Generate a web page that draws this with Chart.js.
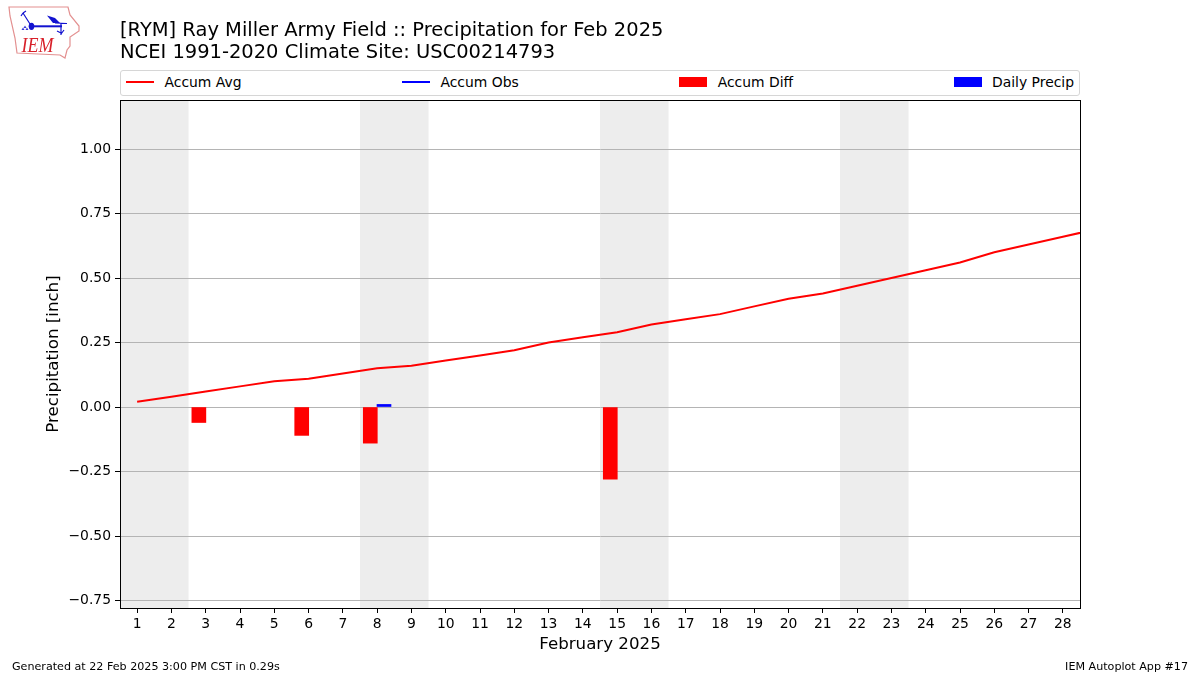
<!DOCTYPE html>
<html>
<head>
<meta charset="utf-8">
<title>Precipitation for Feb 2025</title>
<script src="https://cdn.jsdelivr.net/npm/chart.js@4"></script>
<style>
  body { margin: 0; background: #fff; font-family: "DejaVu Sans", sans-serif; color: #000; }
  #wrap { position: relative; width: 1200px; height: 675px; overflow: hidden; }
  #myChart { position: absolute; left: 0; top: 0; }
  #logo { position: absolute; left: 0; top: 0; }
  .title { position: absolute; left: 120px; font-size: 19.48px; line-height: 23px; white-space: nowrap; }
  .foot { position: absolute; top: 660px; font-size: 11.14px; line-height: 13px; color: #000; white-space: nowrap; }
  #legend { position: absolute; left: 120px; top: 70px; width: 960px; height: 25.5px; box-sizing: border-box;
            border: 1px solid #d6d6d6; border-radius: 3px; padding: 0 5px 2px; background: #fff;
            display: flex; justify-content: space-between; align-items: center; font-size: 13.9px; }
  .item { display: flex; align-items: center; white-space: nowrap; }
  .swatch { display: inline-block; width: 28px; margin-right: 10.5px; }
</style>
</head>
<body>
<div id="wrap">
  <canvas id="myChart" width="1200" height="675"></canvas>
  <svg id="logo" width="85" height="62" viewBox="0 0 85 62">
    <path d="M9 7 L68 7 L70 15 L79 26 L79 31 L70 37 L70 46 L67 50 L65 58 L60 55 L17 53 L15 38 L10 16 Z" fill="none" stroke="#e39090" stroke-width="1.2"/>
    <path d="M31 26.3 L62 26.3" stroke="#1212d0" stroke-width="2" fill="none"/>
    <path d="M30 24 L23 13 M23 13 L21 16 M23 13 L26 11 M55 23 L67 23.5 M61 23 L61 35 M57 31 L61 33 M64 30 L61 34" stroke="#1212d0" stroke-width="1.2" fill="none"/>
    <ellipse cx="31.5" cy="26.3" rx="2.8" ry="3.6" fill="#1212d0"/>
    <path d="M47 15.5 L55 18 L60 23 L53 23 Z" fill="#1212d0"/>
    <path d="M25 25.5 L26.5 28 L23.5 28 Z M23 27.5 L24.5 30 L21.5 30 Z M27 27.5 L28.5 30 L25.5 30 Z" fill="#3a3ad8"/>
    <text x="21.5" y="51.5" font-family="Liberation Serif" font-style="italic" font-size="20.5" textLength="32" lengthAdjust="spacingAndGlyphs" fill="#d8202a">IEM</text>
  </svg>
  <div class="title" style="top:17.5px">[RYM] Ray Miller Army Field :: Precipitation for Feb 2025</div>
  <div class="title" style="top:39.5px">NCEI 1991-2020 Climate Site: USC00214793</div>
  <div id="legend"></div>
  <div class="foot" style="left:12px">Generated at 22 Feb 2025 3:00 PM CST in 0.29s</div>
  <div class="foot" style="right:12px">IEM Autoplot App #17</div>
</div>
<script>
// Days along the x-axis
var days = [1,2,3,4,5,6,7,8,9,10,11,12,13,14,15,16,17,18,19,20,21,22,23,24,25,26,27,28];
var yTicks = [-0.75,-0.5,-0.25,0,0.25,0.5,0.75,1];

// Climatology, the last point is 1 March and gets clipped at the frame
var avgDays = [1,2,3,4,5,6,7,8,9,10,11,12,13,14,15,16,17,18,19,20,21,22,23,24,25,26,27,28,29];
var accumAvg = [0.02,0.04,0.06,0.08,0.10,0.11,0.13,0.15,0.16,0.18,0.20,0.22,0.25,0.27,0.29,0.32,0.34,0.36,0.39,0.42,0.44,0.47,0.50,0.53,0.56,0.60,0.63,0.66,0.69];

var diffDays = [3,6,8,15];
var accumDiff = [-0.06,-0.11,-0.14,-0.28];
var precipDays = [8];
var dailyPrecip = [0.01];

// Weekends, first and last day of each band
var weekendStart = [1,8,15,22];
var weekendEnd = [2,9,16,23];

function toPoints(xs, ys, shift) {
  return xs.map(function (x, i) { return { x: x + shift, y: ys[i] }; });
}

var weekendBands = {
  id: 'weekendBands',
  beforeDraw: function (chart) {
    var ctx = chart.ctx, area = chart.chartArea, xs = chart.scales.x;
    ctx.save();
    ctx.fillStyle = '#ededed';
    weekendStart.forEach(function (d, i) {
      var x0 = xs.getPixelForValue(d - 0.5);
      var x1 = xs.getPixelForValue(weekendEnd[i] + 0.5);
      ctx.fillRect(x0, area.top, x1 - x0, area.bottom - area.top);
    });
    ctx.restore();
  }
};

var frame = {
  id: 'frame',
  afterDraw: function (chart) {
    var a = chart.chartArea, ctx = chart.ctx;
    ctx.save();
    ctx.strokeStyle = '#000';
    ctx.lineWidth = 1;
    ctx.strokeRect(a.left + 0.5, a.top + 0.5, a.right - a.left, a.bottom - a.top);
    ctx.restore();
  }
};

var tickFont = { family: 'DejaVu Sans', size: 13.9 };
var axisFont = { family: 'DejaVu Sans', size: 16.67 };

var myChart = new Chart('myChart', {
  data: {
    datasets: [
      { type: 'line', label: 'Accum Avg', data: toPoints(avgDays, accumAvg, 0), borderColor: '#ff0000', borderWidth: 2, pointRadius: 0, fill: false, order: 1 },
      { type: 'line', label: 'Accum Obs', data: [], borderColor: '#0000ff', borderWidth: 2, pointRadius: 0, fill: false, order: 2 },
      { type: 'bar', label: 'Accum Diff', data: toPoints(diffDays, accumDiff, -0.2), backgroundColor: '#ff0000', borderWidth: 0, barThickness: 14, grouped: false, order: 3 },
      { type: 'bar', label: 'Daily Precip', data: toPoints(precipDays, dailyPrecip, 0.2), backgroundColor: '#0000ff', borderWidth: 0, barThickness: 14, grouped: false, order: 4 }
    ]
  },
  options: {
    responsive: false,
    animation: false,
    layout: { padding: { left: 40, right: 120, top: 100, bottom: 20 } },
    plugins: { legend: { display: false }, title: { display: false }, tooltip: { enabled: false } },
    scales: {
      x: {
        type: 'linear',
        offset: false,
        min: 0.5,
        max: 28.5,
        afterBuildTicks: function (s) { s.ticks = days.map(function (d) { return { value: d }; }); },
        afterFit: function (s) { s.height = 47; },
        grid: { drawOnChartArea: false, offset: false, tickColor: '#000', tickLength: 5 },
        border: { color: '#000' },
        ticks: { color: '#000', font: tickFont, padding: 3, maxRotation: 0, autoSkip: false, callback: function (v) { return String(v); } },
        title: { display: true, text: 'February 2025', color: '#000', font: axisFont, padding: { top: 6, bottom: 0 } }
      },
      y: {
        min: -0.779,
        max: 1.19,
        afterBuildTicks: function (s) { s.ticks = yTicks.map(function (v) { return { value: v }; }); },
        afterFit: function (s) { s.width = 80; },
        grid: { color: '#b4b4b4', tickColor: '#000', tickLength: 5 },
        border: { color: '#000' },
        ticks: { color: '#000', font: tickFont, padding: 4, callback: function (v) { return (v < 0 ? '\u2212' : '') + Math.abs(v).toFixed(2); } },
        title: { display: true, text: 'Precipitation [inch]', color: '#000', font: axisFont, padding: { top: 4, bottom: 0 } }
      }
    }
  },
  plugins: [weekendBands, frame]
});

// Legend row stretched over the plot width
var legendBox = document.getElementById('legend');
myChart.data.datasets.forEach(function (ds) {
  var item = document.createElement('span');
  item.className = 'item';
  var swatch = document.createElement('span');
  swatch.className = 'swatch';
  swatch.style.height = ds.type === 'line' ? '2px' : '10px';
  swatch.style.background = ds.type === 'line' ? ds.borderColor : ds.backgroundColor;
  item.appendChild(swatch);
  item.appendChild(document.createTextNode(ds.label));
  legendBox.appendChild(item);
});
</script>
</body>
</html>
